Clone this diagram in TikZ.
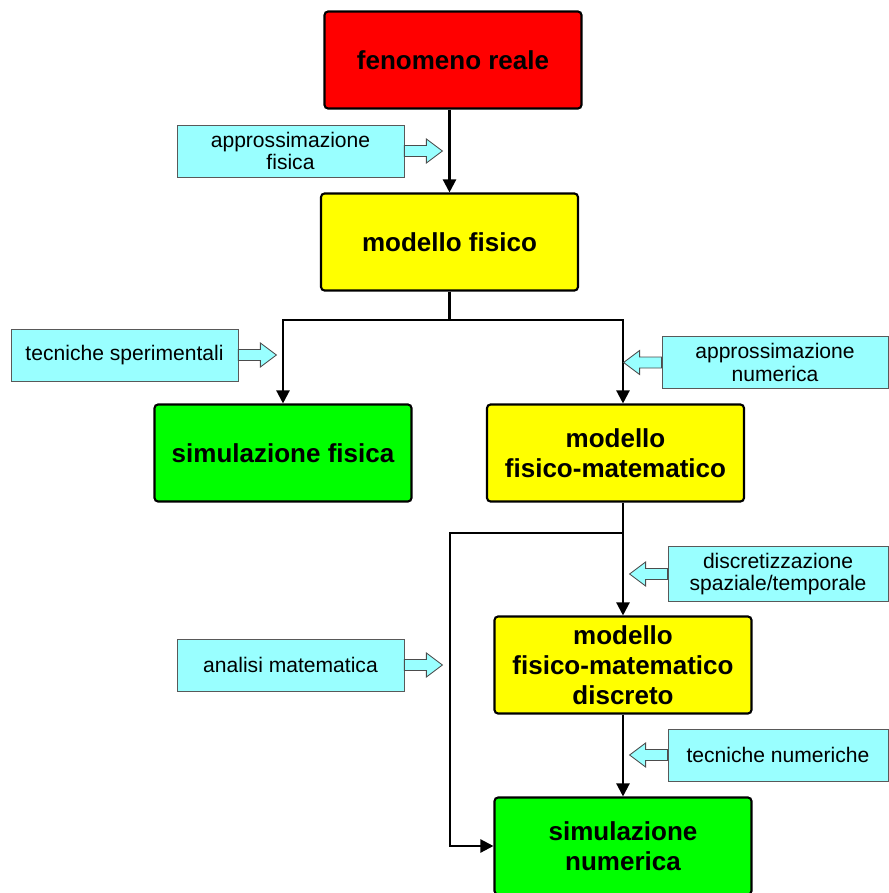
\documentclass[tikz,border=0pt]{standalone}
\usepackage{fontspec}
\setmainfont{Liberation Sans}
\usepackage{tikz}
\usetikzlibrary{arrows.meta,calc}

\definecolor{realred}{HTML}{FF0000}
\definecolor{modelyellow}{HTML}{FFFF00}
\definecolor{simgreen}{HTML}{00FF00}
\definecolor{notecyan}{HTML}{99FFFF}

\begin{document}
\begin{tikzpicture}[x=0.02cm, y=-0.02cm,
    mainbox/.style={draw=black, line width=1.2pt, rounded corners=2pt,
        minimum width=5.14cm, minimum height=1.94cm, align=center,
        font=\fontsize{14.8}{17}\selectfont\bfseries},
    notebox/.style={draw=black!65, line width=0.5pt, fill=notecyan,
        minimum width=4.54cm, minimum height=1.04cm, align=center,
        font=\fontsize{12}{13}\selectfont},
    flow/.style={line width=1.3pt, -{Triangle[length=7.5pt,width=7.5pt]}},
    hollow/.style={draw=black!70, line width=0.5pt, fill=notecyan}]

\useasboundingbox (0,0) rectangle (889,893);

% Macro: fat hollow arrow leaving a note box (#2 = 1 right, -1 left)
\newcommand{\hollowarrow}[2]{
    \draw[hollow] ($(#1)+(0,-5.5)$) -- ++({(#2)*22},0) -- ++(0,-6.5)
        -- ++({(#2)*16},12) -- ++({-(#2)*16},12) -- ++(0,-6.5)
        -- ++({-(#2)*22},0) -- cycle;
}

% Main boxes
\node[mainbox, fill=realred] (fen) at (453,60) {fenomeno reale};
\node[mainbox, fill=modelyellow] (mfis) at (449.5,242) {modello fisico};
\node[mainbox, fill=simgreen] (sfis) at (283,453) {simulazione fisica};
\node[mainbox, fill=modelyellow] (mfm) at (615.5,453) {modello\\fisico-matematico};
\node[mainbox, fill=modelyellow] (mfmd) at (623,665) {modello\\fisico-matematico\\discreto};
\node[mainbox, fill=simgreen] (snum) at (623,846) {simulazione\\numerica};

% Note boxes
\node[notebox] (afis) at (290.5,151) {approssimazione\\fisica};
\node[notebox] (tsper) at (124.5,355) {tecniche sperimentali};
\node[notebox, minimum width=4.52cm] (anum) at (775,362.5) {approssimazione\\numerica};
\node[notebox, minimum width=4.4cm] (disc) at (778,574) {discretizzazione\\spaziale/temporale};
\node[notebox, minimum width=4.4cm] (tnum) at (778,755) {tecniche numeriche};
\node[notebox] (amat) at (290.5,665) {analisi matematica};

% Split points
\coordinate (split1) at (449.5,320);
\coordinate (split2) at (622,533);
\coordinate (loopcorner) at (450,533);

% Connectors
\draw[flow] (fen.south -| mfis.north) -- (mfis.north);
\draw[line width=1.3pt] (mfis.south) -- (split1);
\draw[flow] (split1) -| (sfis.north);
\draw[flow] (split1) -| (mfmd.north |- mfm.north);
\draw[flow] (mfm.south -| mfmd.north) -- (mfmd.north);
\draw[flow] (split2) -- (loopcorner) |- (snum.west);
\draw[flow] (mfmd.south) -- (snum.north);

% Hollow arrows
\hollowarrow{afis.east}{1}
\hollowarrow{tsper.east}{1}
\hollowarrow{amat.east}{1}
\hollowarrow{anum.west}{-1}
\hollowarrow{disc.west}{-1}
\hollowarrow{tnum.west}{-1}

\end{tikzpicture}
\end{document}
